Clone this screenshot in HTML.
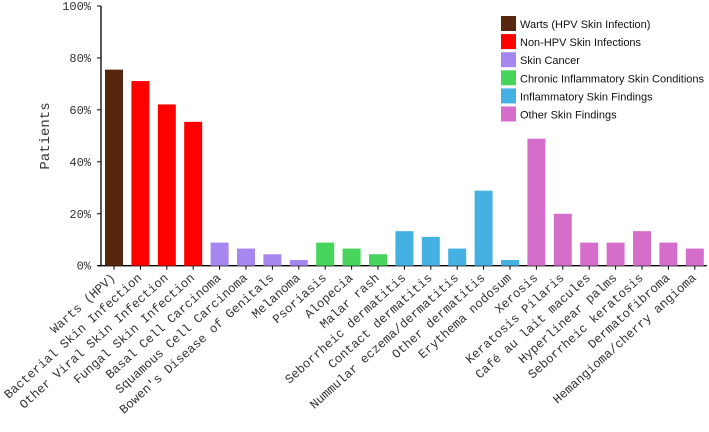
<!DOCTYPE html>
<html><head><meta charset="utf-8"><style>
body{margin:0;background:#fff;}
svg{display:block;}
</style></head><body>
<svg id="chart" width="709" height="432" xmlns="http://www.w3.org/2000/svg"></svg>
<script>
const categories=["Warts (HPV)","Bacterial Skin Infection","Other Viral Skin Infection","Fungal Skin Infection","Basal Cell Carcinoma","Squamous Cell Carcinoma","Bowen's Disease of Genitals","Melanoma","Psoriasis","Alopecia","Malar rash","Seborrheic dermatitis","Contact dermatitis","Nummular eczema/dermatitis","Other dermatitis","Erythema nodosum","Xerosis","Keratosis Pilaris","Café au lait macules","Hyperlinear palms","Seborrheic keratosis","Dermatofibroma","Hemangioma/cherry angioma"];
const values=[75.5,71.1,62.1,55.4,8.9,6.6,4.4,2.2,8.9,6.6,4.4,13.3,11.1,6.6,28.9,2.2,48.9,20,8.9,8.9,13.3,8.9,6.6];
const groups=[0,1,1,1,2,2,2,2,3,3,3,4,4,4,4,4,5,5,5,5,5,5,5];
const groupNames=["Warts (HPV Skin Infection)","Non-HPV Skin Infections","Skin Cancer","Chronic Inflammatory Skin Conditions","Inflammatory Skin Findings","Other Skin Findings"];
const groupColors=["#56260e","#ff0000","#a687ef","#46d45a","#45b1e2","#d56ecb"];
const yTicks=[0,20,40,60,80,100];

const svg=document.getElementById('chart');
const NS="http://www.w3.org/2000/svg";
const y0=265.7,y1=6,x0=114,step=26.4,bw=18;
const yS=v=>y0-(y0-y1)*v/100;
const xS=i=>x0+i*step;
function mk(t,a,p){const e=document.createElementNS(NS,t);for(const k in a)e.setAttribute(k,a[k]);(p||svg).appendChild(e);return e;}

const axis=mk('g',{});


mk('line',{x1:101,y1:y1,x2:101,y2:y0,stroke:'#000','stroke-width':1.3},axis);
mk('line',{x1:98,y1:y0,x2:xS(categories.length-1)+12,y2:y0,stroke:'#000','stroke-width':1.3},axis);
yTicks.forEach(t=>{
  mk('line',{x1:97,y1:yS(t),x2:101,y2:yS(t),stroke:'#000'},axis);
  const tx=mk('text',{x:91,y:yS(t)+4,'text-anchor':'end','font-family':'Liberation Mono, monospace','font-size':12,fill:'#333'},axis);
  tx.textContent=t+'%';
  
  
});
const yt=mk('text',{transform:'translate(49,136) rotate(-90)','text-anchor':'middle','font-family':'Liberation Mono, monospace','font-size':14,fill:'#333'});
yt.textContent='Patients';



categories.forEach((c,i)=>{
  const x=xS(i),v=values[i];
  const r=mk('rect',{x:x-bw/2,y:yS(v),width:bw,height:y0-yS(v),fill:groupColors[groups[i]]});
  
  
  mk('line',{x1:x,y1:y0,x2:x,y2:y0+4,stroke:'#000'},axis);
  const t=mk('text',{transform:`translate(${x+2},${y0+13}) rotate(-42)`,'text-anchor':'end','font-family':'Liberation Mono, monospace','font-size':12.5,fill:'#333'});
  t.textContent=c;
  
  
});

const lg=mk('g',{});


groupNames.forEach((g,i)=>{
  const yy=16+i*18.1;
  const e=mk('g',{},lg);
  
  
  mk('rect',{x:501,y:yy,width:15,height:15,fill:groupColors[i]},e);
  const t=mk('text',{x:520,y:yy+12,'font-family':'Liberation Sans, sans-serif','font-size':11,fill:'#111'},e);
  t.textContent=g;
});
</script>
</body></html>
